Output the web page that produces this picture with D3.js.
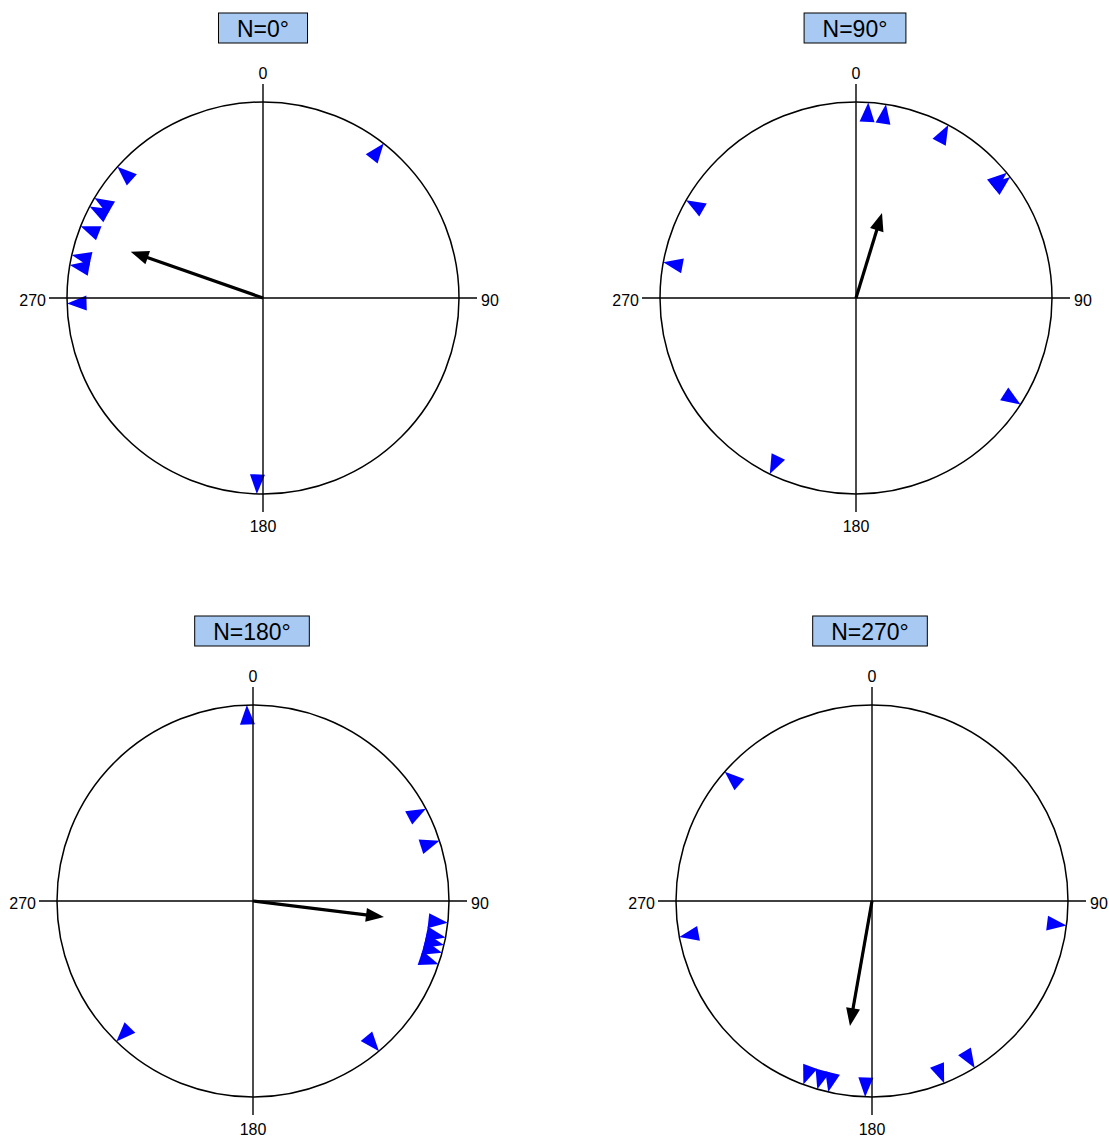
<!DOCTYPE html>
<html>
<head>
<meta charset="utf-8">
<script src="https://cdn.jsdelivr.net/npm/d3@7"></script>
<style>
  body { margin: 0; background: #fff; }
  text { font-family: "Liberation Sans", Arial, sans-serif; }
</style>
</head>
<body>
<svg id="chart" width="1109" height="1137"></svg>
<script>
// Panel titles (reference orientation of each recording)
const panelTitles = ["N=0°", "N=90°", "N=180°", "N=270°"];

// Headings of individual samples, degrees clockwise from 0 (top)
const headingsN0   = [38, 312, 300.7, 297.8, 291.5, 282.7, 279.7, 268.4, 181.8];
const headingsN90  = [3.6, 8.8, 28.1, 50.3, 51.9, 122.9, 206.1, 280.5, 299.9];
const headingsN180 = [358.2, 61.9, 72.1, 96.4, 100.7, 103, 105.3, 108.8, 140, 224.2];
const headingsN270 = [97.2, 148.4, 158.4, 182, 192.9, 196.2, 200.5, 259.4, 311.3];

// Mean resultant vector per panel: direction (deg) and length (0..1)
const resultantDirection = [289.3, 17, 97, 190];
const resultantLength    = [0.715, 0.454, 0.673, 0.648];

// Compass tick labels
const compassTicks = [0, 90, 180, 270];

const panelHeadings = [headingsN0, headingsN90, headingsN180, headingsN270];

// Panel placement
const R = 196;
const panels = [
  { cx: 263, cy: 298, tx: 263, ty: 13 },
  { cx: 856, cy: 298, tx: 855, ty: 13 },
  { cx: 253, cy: 901, tx: 252, ty: 616 },
  { cx: 872, cy: 901, tx: 870, ty: 616 }
];

const svg = d3.select("#chart");
const rScale = d3.scaleLinear().domain([0, 1]).range([0, R]);
const axisReach = R + 18;

panels.forEach((p, i) => {
  const g = svg.append("g").attr("transform", `translate(${p.cx},${p.cy})`);

  // sample markers: triangles pointing outward, tip on the circle
  const mh = 19.5, mw = 7.5;
  g.selectAll("path.sample")
    .data(panelHeadings[i])
    .join("path")
    .attr("class", "sample")
    .attr("transform", d => `rotate(${d})`)
    .attr("d", `M0,${-rScale(1)}L${-mw},${-(rScale(1) - mh)}L${mw},${-(rScale(1) - mh)}Z`)
    .attr("fill", "#0000ff");

  // cross-hair axes
  g.append("line")
    .attr("x1", 0).attr("x2", 0)
    .attr("y1", -axisReach).attr("y2", axisReach)
    .attr("stroke", "#000").attr("stroke-width", 1.4);
  g.append("line")
    .attr("y1", 0).attr("y2", 0)
    .attr("x1", -axisReach).attr("x2", axisReach)
    .attr("stroke", "#000").attr("stroke-width", 1.4);

  // unit circle
  g.append("circle")
    .attr("r", rScale(1))
    .attr("fill", "none")
    .attr("stroke", "#000").attr("stroke-width", 1.5);

  // compass labels
  const labelPos = {
    0:   { x: 0, y: -axisReach - 5, anchor: "middle" },
    90:  { x: axisReach + 4, y: 8, anchor: "start" },
    180: { x: 0, y: axisReach + 20, anchor: "middle" },
    270: { x: -axisReach - 3, y: 8, anchor: "end" }
  };
  g.selectAll("text.tick")
    .data(compassTicks)
    .join("text")
    .attr("class", "tick")
    .attr("x", d => labelPos[d].x)
    .attr("y", d => labelPos[d].y)
    .attr("text-anchor", d => labelPos[d].anchor)
    .attr("font-size", 16)
    .attr("fill", "#000")
    .text(d => String(d));

  // mean resultant arrow
  const L = rScale(resultantLength[i]);
  const ah = 18, aw = 7;
  const arrow = g.append("g").attr("transform", `rotate(${resultantDirection[i]})`);
  arrow.append("line")
    .attr("x1", 0).attr("y1", 0)
    .attr("x2", 0).attr("y2", -(L - ah + 2))
    .attr("stroke", "#000").attr("stroke-width", 3.2);
  arrow.append("path")
    .attr("d", `M0,${-L}L${-aw},${-(L - ah)}L${aw},${-(L - ah)}Z`)
    .attr("fill", "#000");

  // title box
  const tg = svg.append("g");
  const tt = tg.append("text")
    .attr("x", p.tx)
    .attr("y", p.ty + 24)
    .attr("text-anchor", "middle")
    .attr("font-size", 23)
    .attr("fill", "#000")
    .text(panelTitles[i]);
  const tw = tt.node().getComputedTextLength() + 37;
  tg.insert("rect", "text")
    .attr("x", p.tx - tw / 2)
    .attr("y", p.ty)
    .attr("width", tw)
    .attr("height", 30)
    .attr("fill", "#a8caf2")
    .attr("stroke", "#000")
    .attr("stroke-width", 1);
});
</script>
</body>
</html>
